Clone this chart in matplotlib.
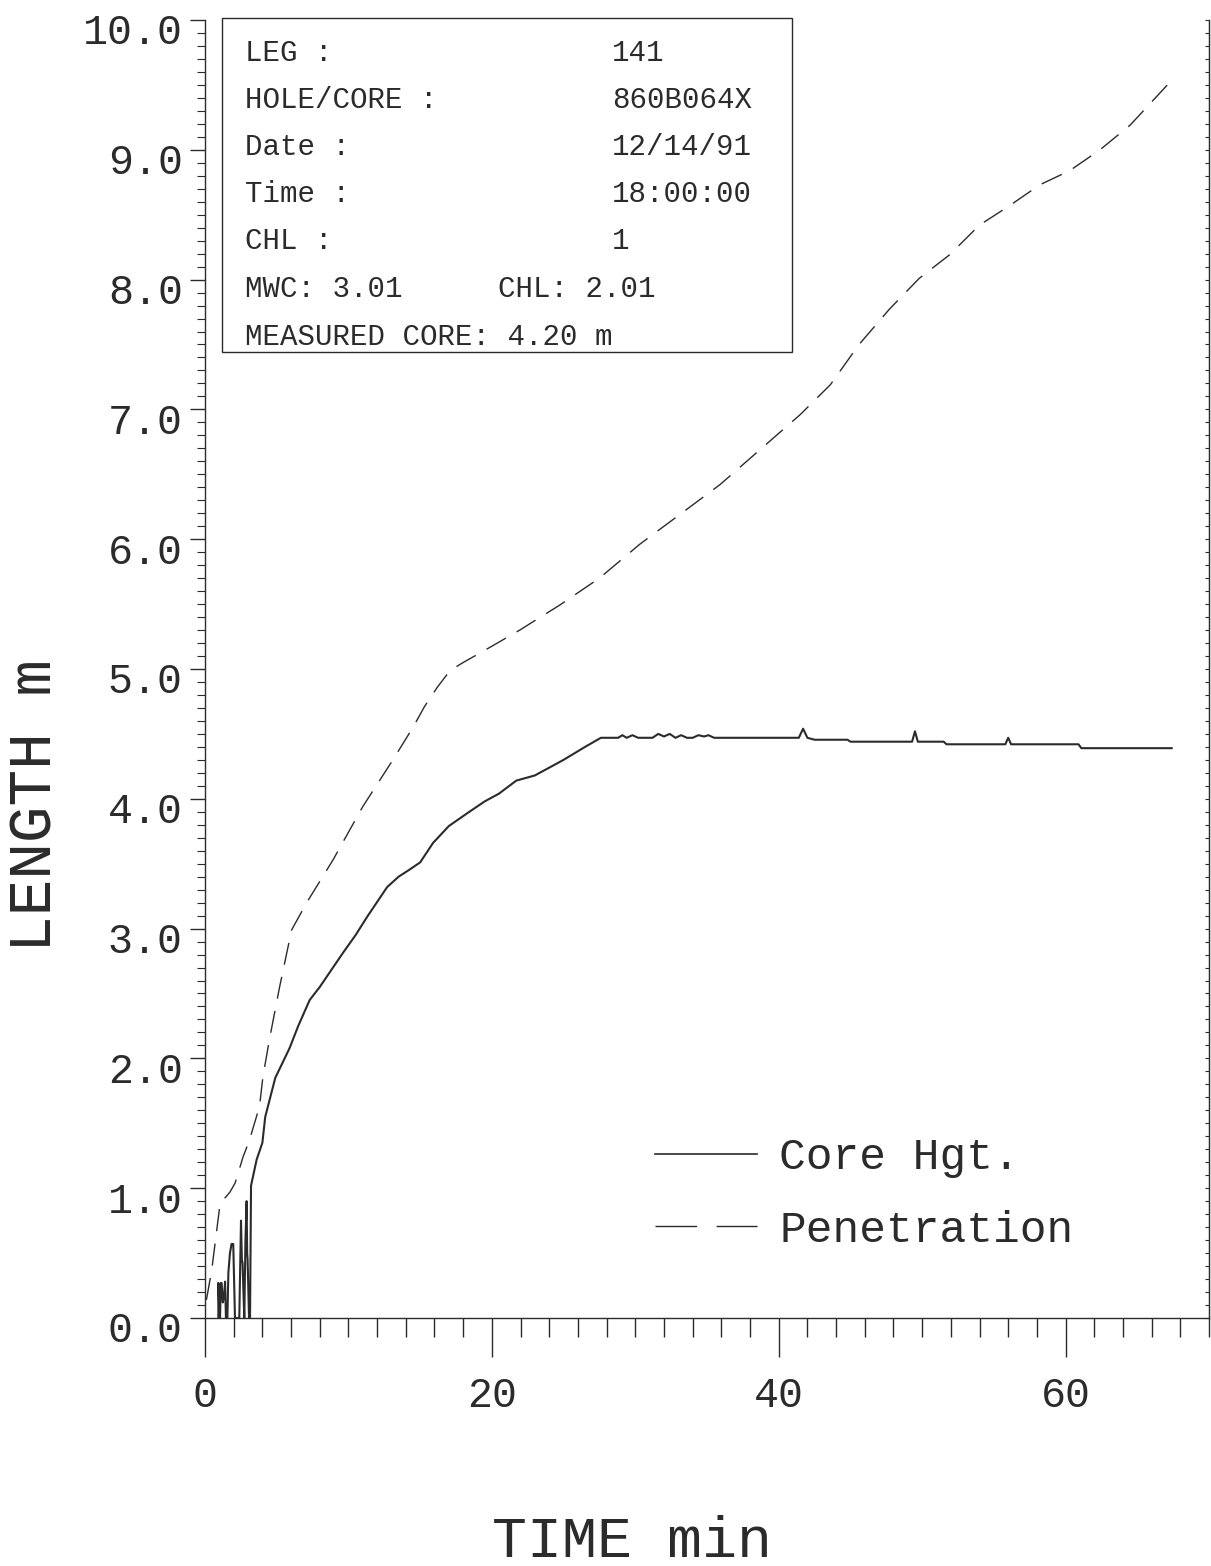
import matplotlib.pyplot as plt
from matplotlib.lines import Line2D
from matplotlib.patches import Rectangle
from matplotlib.ticker import MultipleLocator, FormatStrFormatter
from matplotlib.transforms import ScaledTranslation

plt.rcParams['font.family'] = ['Liberation Mono', 'DejaVu Sans']

# Core height (solid) -- time in min, length in m
t_core = [0.93, 0.93, 1.0, 1.05, 1.1, 1.16, 1.24, 1.32, 1.4, 1.46, 1.56, 1.63,
          1.74, 1.85, 1.97, 2.09, 2.39, 2.51, 2.57, 2.62, 2.68, 2.74, 2.82, 2.90,
          2.94, 2.97, 3.07, 3.14, 3.21, 3.6, 4.0, 4.2, 4.9, 5.9, 6.5, 7.3, 8.0,
          9.6, 10.5, 11.3, 12.7, 13.5, 14.2, 15.0, 15.9, 17.0, 18.3, 19.5, 20.5,
          21.7, 23.0, 24.0, 25.0, 26.5, 27.6, 28.8, 29.1, 29.4, 29.8, 30.2, 31.2,
          31.6, 32.0, 32.4, 32.8, 33.2, 33.6, 34.0, 34.4, 34.8, 35.1, 35.5, 41.4,
          41.7, 42.0, 42.5, 44.8, 45.0, 49.3, 49.5, 49.7, 51.5, 51.7, 55.8, 56.0,
          56.2, 60.9, 61.1, 67.4]
y_core = [0.0, 0.27, 0.05, 0.0, 0.27, 0.27, 0.12, 0.16, 0.28, 0.0, 0.0, 0.35,
          0.50, 0.57, 0.57, 0.0, 0.0, 0.75, 0.45, 0.42, 0.2, 0.0, 0.6, 0.90,
          0.5, 0.45, 0.0, 0.0, 1.02, 1.22, 1.35, 1.55, 1.85, 2.08, 2.25, 2.45, 2.55,
          2.81, 2.95, 3.09, 3.32, 3.40, 3.45, 3.51, 3.66, 3.79, 3.89, 3.98, 4.04,
          4.14, 4.18, 4.24, 4.30, 4.40, 4.47, 4.47, 4.49, 4.47, 4.49, 4.47, 4.47,
          4.50, 4.48, 4.50, 4.47, 4.49, 4.47, 4.47, 4.49, 4.48, 4.49, 4.47, 4.47,
          4.54, 4.47, 4.455, 4.455, 4.44, 4.44, 4.52, 4.44, 4.44, 4.42, 4.42, 4.47,
          4.42, 4.42, 4.39, 4.39]

# Penetration (dashed)
t_pen = [0.1, 0.47, 1.05, 1.74, 2.1, 2.65, 3.1, 3.8, 4.04, 4.5, 5.2, 6.04, 7.09,
         8.93, 11.0, 13.1, 14.5, 15.3, 16.2, 17.1, 18.0, 19.6, 21.95, 23.1, 24.7,
         27.5, 30.3, 33.1, 35.9, 38.7, 41.5, 43.6, 45.6, 47.7, 49.8, 51.9, 54.0,
         56.1, 58.2, 60.3, 62.4, 64.5, 67.1]
y_pen = [0.14, 0.37, 0.88, 0.97, 1.04, 1.24, 1.37, 1.63, 1.86, 2.15, 2.55, 2.99,
         3.20, 3.53, 3.94, 4.30, 4.55, 4.71, 4.86, 4.99, 5.05, 5.15, 5.30, 5.38,
         5.49, 5.70, 5.96, 6.19, 6.42, 6.69, 6.96, 7.19, 7.50, 7.77, 8.01, 8.19,
         8.42, 8.57, 8.73, 8.84, 9.0, 9.19, 9.5]

info_left = ["LEG :", "HOLE/CORE :", "Date :", "Time :", "CHL :"]
info_right = ["141", "860B064X", "12/14/91", "18:00:00", "1"]
mwc_text = "MWC: 3.01"
chl_text = "CHL: 2.01"
measured_text = "MEASURED CORE: 4.20 m"

ink = '#2b2b2b'
W, H = 1211, 1566


def fx(px):
    return px / W


def fy(py):
    return 1 - py / H


fig = plt.figure(figsize=(W / 100, H / 100), dpi=100)
ax = fig.add_axes([fx(205), fy(1318), (1209 - 205) / W, (1318 - 20) / H])

ax.plot(t_core, y_core, color=ink, lw=1.5)
ax.plot(t_pen, y_pen, color=ink, lw=1.0, linestyle=(0, (16, 9)))

ax.set_xlim(0, 70)
ax.set_ylim(0, 10)
ax.xaxis.set_major_locator(MultipleLocator(20))
ax.xaxis.set_minor_locator(MultipleLocator(2))
ax.yaxis.set_major_locator(MultipleLocator(1))
ax.yaxis.set_minor_locator(MultipleLocator(0.1))
ax.yaxis.set_major_formatter(FormatStrFormatter('%.1f'))

for s in ['left', 'bottom', 'right']:
    ax.spines[s].set_color(ink)
    ax.spines[s].set_linewidth(1.0)
ax.spines['top'].set_visible(False)

ax.tick_params(axis='x', which='major', length=28, width=1, color=ink,
               pad=14, labelsize=30, labelcolor=ink)
ax.tick_params(axis='x', which='minor', length=14, width=1, color=ink)
ax.tick_params(axis='y', which='major', length=11, width=1, color=ink,
               pad=5, labelsize=30, labelcolor=ink)
ax.tick_params(axis='y', which='minor', length=6, width=0.8, color=ink)

# y labels sit a little below their ticks in the original
shift = ScaledTranslation(0, -0.09, fig.dpi_scale_trans)
for lbl in ax.yaxis.get_majorticklabels():
    lbl.set_transform(lbl.get_transform() + shift)

sec = ax.secondary_yaxis('right')
sec.yaxis.set_major_locator(MultipleLocator(1))
sec.yaxis.set_minor_locator(MultipleLocator(0.1))
sec.tick_params(which='both', direction='in', length=3, width=0.8,
                color=ink, labelright=False)
sec.spines['right'].set_color(ink)

# legend
handles = [Line2D([], [], color=ink, lw=1.2),
           Line2D([], [], color=ink, lw=1.0, linestyle=(0, (30, 14)))]
ax.legend(handles, ['Core Hgt.', 'Penetration'], loc='center left',
          bbox_to_anchor=(fx(655), fy(1194)), bbox_transform=fig.transFigure,
          frameon=False, fontsize=32, handlelength=2.3, handletextpad=0.5,
          labelspacing=0.7, borderpad=0, borderaxespad=0, labelcolor=ink)

# info box
fig.add_artist(Rectangle((fx(222), fy(352)), (792 - 222) / W, (352 - 18) / H,
                         transform=fig.transFigure, fill=False,
                         edgecolor=ink, lw=1.0))
rows = [53, 100, 147, 194, 241, 289, 337]
fs_box = 21
for i, (a, b) in enumerate(zip(info_left, info_right)):
    fig.text(fx(245), fy(rows[i]), a, fontsize=fs_box, color=ink, va='center')
    fig.text(fx(612), fy(rows[i]), b, fontsize=fs_box, color=ink, va='center')
fig.text(fx(245), fy(rows[5]), mwc_text, fontsize=fs_box, color=ink, va='center')
fig.text(fx(498), fy(rows[5]), chl_text, fontsize=fs_box, color=ink, va='center')
fig.text(fx(245), fy(rows[6]), measured_text, fontsize=fs_box, color=ink, va='center')

# axis titles
fig.text(fx(36), fy(805), 'LENGTH m', rotation=90, fontsize=44, color=ink,
         ha='center', va='center')
fig.text(fx(632), fy(1542), 'TIME min', fontsize=42, color=ink,
         ha='center', va='center')

fig.savefig('out.png', dpi=100)
